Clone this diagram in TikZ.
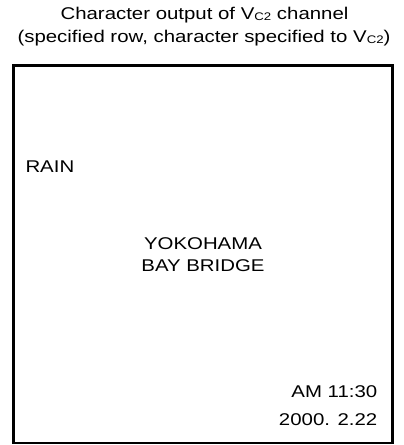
\documentclass[tikz,border=0pt]{standalone}
\usepackage{fontspec}
\setmainfont{Liberation Sans}[FakeStretch=1.2]
\newcommand{\vsub}{V{\fontsize{11}{11}\selectfont\raisebox{-0.8pt}{C2}}}
\begin{document}
\begin{tikzpicture}[x=1pt,y=-1pt,
  lbl/.style={inner sep=0pt, font=\fontsize{17}{22}\selectfont},
  screen/.style={draw=black, line width=2.5pt, inner sep=0pt, minimum width=379.2pt, minimum height=377.3pt}]
\useasboundingbox (0,0) rectangle (404,445);
\node[lbl, anchor=base] (t1) at (204.5,19.5) {Character output of \vsub{} channel};
\node[lbl, anchor=base] (t2) at (204,42.5) {(specified row, character specified to \vsub)};
\node[screen] (scr) at (203.1,254.35) {};
\node[lbl, anchor=base west] (rain) at (25.3,172.3) {RAIN};
\node[lbl, anchor=base] (yoko) at (203,249.3) {YOKOHAMA};
\node[lbl, anchor=base] (bay) at (203,271.7) {BAY BRIDGE};
\node[lbl, anchor=base east] (time) at (377.5,397.7) {AM 11:30};
\node[lbl, anchor=base east] (date) at (377.5,425) {2000. 2.22};
\end{tikzpicture}
\end{document}
